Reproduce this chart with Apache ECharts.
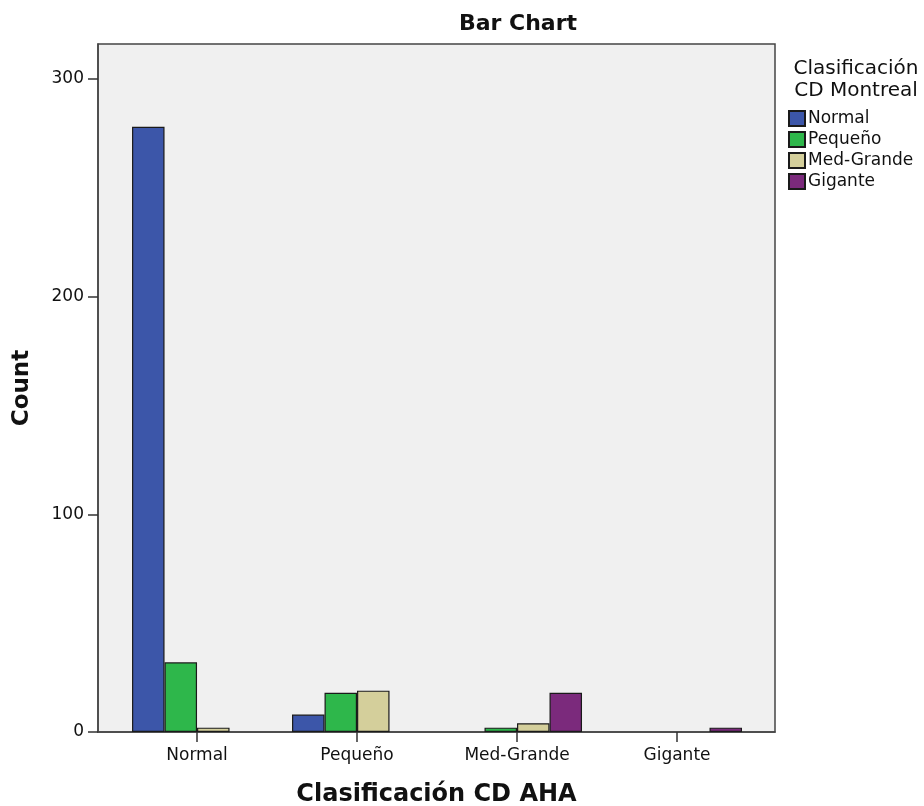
<!DOCTYPE html>
<html><head><meta charset="utf-8">
<script src="https://cdn.jsdelivr.net/npm/echarts@6/dist/echarts.min.js"></script>
<style>html,body{margin:0;padding:0;background:#fff}#c{width:924px;height:806px}</style>
</head><body><div id="c"></div>
<script>
const categories = ['Normal', 'Pequeño', 'Med-Grande', 'Gigante'];
const seriesNames = ['Normal', 'Pequeño', 'Med-Grande', 'Gigante'];
const normalVals = [278, 8, 0, 0];
const pequenoVals = [32, 18, 2, 0];
const medGrandeVals = [2, 19, 4, 0];
const giganteVals = [0, 0, 18, 2];
const yTicks = [0, 100, 200, 300];
const colors = ['#3c56a9', '#2eb74b', '#d4cf9b', '#7b2a7c'];

const allVals = [normalVals, pequenoVals, medGrandeVals, giganteVals];
const FONT = 'DejaVu Sans';
const chart = echarts.init(document.getElementById('c'), null, {renderer: 'canvas'});
const series = seriesNames.map((n, i) => ({
  name: n, type: 'bar',
  data: allVals[i].map((v, j) => v > 0 ? [j, v] : null).filter(d => d),
  barWidth: 32.5, barGap: '0%',
  itemStyle: {color: colors[i], borderColor: '#1a1a1a', borderWidth: 1.2},
  emphasis: {disabled: true}
}));
chart.setOption({
  animation: false,
  title: [
    {text: 'Bar Chart', left: 513, top: 8, textAlign: 'center',
     textStyle: {fontFamily: FONT, fontSize: 22, fontWeight: 'bold', color: '#111'}},
    {text: 'Clasificación\nCD Montreal', left: 851, top: 53, textAlign: 'center',
     textStyle: {fontFamily: FONT, fontSize: 20, fontWeight: 'normal', color: '#111', lineHeight: 22}}
  ],
  legend: {
    orient: 'vertical', left: 788, top: 110, itemWidth: 16, itemHeight: 15, itemGap: 4,
    icon: 'rect', data: seriesNames, padding: 0,
    textStyle: {fontFamily: FONT, fontSize: 17, color: '#111', padding: [0, 0, 0, -2]}
  },
  grid: {left: 98, top: 44, right: 149, bottom: 74, show: true, outerBoundsMode: 'none',
    backgroundColor: '#f0f0f0', borderColor: '#444', borderWidth: 1.5, containLabel: false},
  xAxis: {
    type: 'value', min: -0.619, max: 3.6125,
    name: 'Clasificación CD AHA', nameLocation: 'middle', nameGap: 51,
    nameTextStyle: {fontFamily: FONT, fontSize: 24, fontWeight: 'bold', color: '#111'},
    axisLine: {show: true, onZero: false, lineStyle: {color: '#444', width: 1.5}},
    axisTick: {show: true, length: 10, customValues: [0, 1, 2, 3], lineStyle: {color: '#333', width: 1.5}},
    axisLabel: {customValues: [0, 1, 2, 3], formatter: v => categories[v] || '', margin: 15,
      fontFamily: FONT, fontSize: 17, color: '#111'},
    splitLine: {show: false}
  },
  yAxis: {
    type: 'value', min: 0, max: 316,
    name: 'Count', nameLocation: 'middle', nameGap: 64, nameRotate: 90,
    nameTextStyle: {fontFamily: FONT, fontSize: 23, fontWeight: 'bold', color: '#111'},
    axisLine: {show: true, onZero: false, lineStyle: {color: '#444', width: 1.5}},
    axisTick: {show: true, length: 10, customValues: yTicks, lineStyle: {color: '#333', width: 1.5}},
    axisLabel: {customValues: yTicks, margin: 14, fontFamily: FONT, fontSize: 17, color: '#111'},
    splitLine: {show: false}
  },
  series: series
});
</script></body></html>
